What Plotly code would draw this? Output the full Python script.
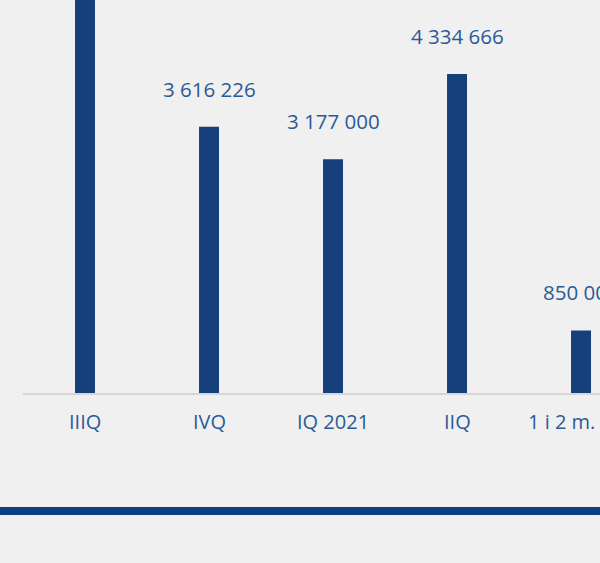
import plotly.graph_objects as go

categories = ["IIIQ", "IVQ", "IQ 2021", "IIQ", "1 i 2 m."]
values = [5900000, 3616226, 3177000, 4334666, 850000]
labels = ["5 900 000", "3 616 226", "3 177 000", "4 334 666", "850 000"]

BAR = "#15407b"
TXT = "#2b5a98"
BG = "#f0f0f0"

fig = go.Figure()
fig.add_trace(go.Bar(x=categories, y=values, marker=dict(color=BAR, line=dict(width=0)),
                     width=0.161, hoverinfo="skip"))

for c, v, t in zip(categories, values, labels):
    fig.add_annotation(x=c, y=v, text=t, showarrow=False, yanchor="bottom", yshift=22,
                       font=dict(family="Open Sans", size=20.5, color=TXT))

# category labels below the axis (last one nudged left so it stays inside the frame)
for i, c in enumerate(categories):
    fig.add_annotation(x=c, y=0, text=c, showarrow=False, yanchor="middle", yshift=-28,
                       xshift=-20 if i == len(categories) - 1 else 0,
                       font=dict(family="Open Sans", size=20, color=TXT))

fig.add_shape(type="line", xref="paper", yref="paper", x0=-0.1, x1=1.1,
              y0=-0.3, y1=-0.3, line=dict(color="#0b3f80", width=8))

fig.update_layout(
    width=600, height=563, paper_bgcolor=BG, plot_bgcolor=BG,
    margin=dict(l=23, r=0, t=0, b=170), showlegend=False,
    xaxis=dict(range=[-0.5, 4.153], showgrid=False, showline=True, linecolor="#d6d6d6",
               linewidth=2, showticklabels=False, ticks="", fixedrange=True),
    yaxis=dict(range=[0, 5340000], visible=False, showgrid=False, zeroline=False),
)
fig.write_html("out.html", config={"displayModeBar": False, "responsive": False},
               post_script="document.body.style.margin='0';document.body.style.overflow='hidden';document.body.style.background='#f0f0f0';")
